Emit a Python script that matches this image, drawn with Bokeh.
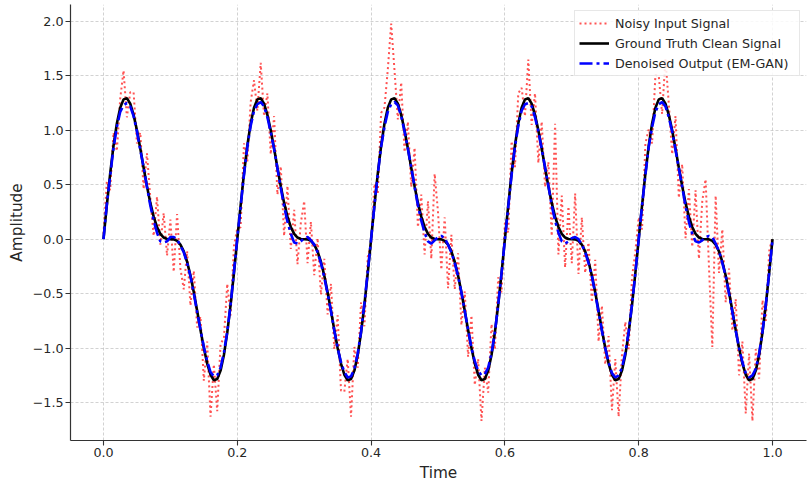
import numpy as np
from bokeh.plotting import figure
from bokeh.models import Range1d, Legend, LegendItem, CustomJSTickFormatter, FixedTicker
from bokeh.embed import file_html
from bokeh.resources import INLINE

time = np.linspace(0.0, 1.0, 201)

clean_signal = [
    0.0000, 0.3109, 0.6029, 0.8585, 1.0633, 1.2071, 1.2845, 1.2955, 1.2450, 1.1422,
    1.0000, 0.8332, 0.6572, 0.4865, 0.3335, 0.2071, 0.1123, 0.0495, 0.0151, 0.0019,
    0.0000, -0.0019, -0.0151, -0.0495, -0.1123, -0.2071, -0.3335, -0.4865, -0.6572, -0.8332,
    -1.0000, -1.1422, -1.2450, -1.2955, -1.2845, -1.2071, -1.0633, -0.8585, -0.6029, -0.3109,
    0.0000, 0.3109, 0.6029, 0.8585, 1.0633, 1.2071, 1.2845, 1.2955, 1.2450, 1.1422,
    1.0000, 0.8332, 0.6572, 0.4865, 0.3335, 0.2071, 0.1123, 0.0495, 0.0151, 0.0019,
    0.0000, -0.0019, -0.0151, -0.0495, -0.1123, -0.2071, -0.3335, -0.4865, -0.6572, -0.8332,
    -1.0000, -1.1422, -1.2450, -1.2955, -1.2845, -1.2071, -1.0633, -0.8585, -0.6029, -0.3109,
    0.0000, 0.3109, 0.6029, 0.8585, 1.0633, 1.2071, 1.2845, 1.2955, 1.2450, 1.1422,
    1.0000, 0.8332, 0.6572, 0.4865, 0.3335, 0.2071, 0.1123, 0.0495, 0.0151, 0.0019,
    0.0000, -0.0019, -0.0151, -0.0495, -0.1123, -0.2071, -0.3335, -0.4865, -0.6572, -0.8332,
    -1.0000, -1.1422, -1.2450, -1.2955, -1.2845, -1.2071, -1.0633, -0.8585, -0.6029, -0.3109,
    0.0000, 0.3109, 0.6029, 0.8585, 1.0633, 1.2071, 1.2845, 1.2955, 1.2450, 1.1422,
    1.0000, 0.8332, 0.6572, 0.4865, 0.3335, 0.2071, 0.1123, 0.0495, 0.0151, 0.0019,
    0.0000, -0.0019, -0.0151, -0.0495, -0.1123, -0.2071, -0.3335, -0.4865, -0.6572, -0.8332,
    -1.0000, -1.1422, -1.2450, -1.2955, -1.2845, -1.2071, -1.0633, -0.8585, -0.6029, -0.3109,
    0.0000, 0.3109, 0.6029, 0.8585, 1.0633, 1.2071, 1.2845, 1.2955, 1.2450, 1.1422,
    1.0000, 0.8332, 0.6572, 0.4865, 0.3335, 0.2071, 0.1123, 0.0495, 0.0151, 0.0019,
    0.0000, -0.0019, -0.0151, -0.0495, -0.1123, -0.2071, -0.3335, -0.4865, -0.6572, -0.8332,
    -1.0000, -1.1422, -1.2450, -1.2955, -1.2845, -1.2071, -1.0633, -0.8585, -0.6029, -0.3109,
    0.0000,
]

noisy_signal = [
    0.05, 0.53, 0.45, 0.98, 0.81, 1.29, 1.55, 1.12, 1.35, 1.35,
    0.88, 0.98, 0.46, 0.79, 0.38, 0.03, 0.39, -0.05, 0.24, -0.15,
    0.18, -0.30, 0.23, -0.27, -0.46, -0.11, -0.61, -0.29, -0.81, -0.71,
    -1.30, -0.94, -1.63, -1.15, -1.58, -0.96, -0.91, -0.41, -0.70, -0.06,
    0.10, 0.11, 0.88, 0.71, 1.26, 1.46, 1.18, 1.62, 1.13, 1.34,
    0.78, 1.13, 0.41, 0.67, 0.03, 0.49, -0.09, 0.27, -0.23, 0.15,
    0.35, -0.22, 0.16, -0.33, 0.01, -0.51, -0.18, -0.69, -0.41, -1.01,
    -0.70, -1.39, -1.40, -1.10, -1.63, -0.99, -1.18, -0.58, -0.80, -0.16,
    -0.05, 0.51, 0.42, 1.16, 1.21, 1.56, 1.98, 1.55, 1.10, 1.44,
    0.80, 1.08, 0.48, 0.84, 0.11, 0.41, -0.14, 0.35, -0.18, 0.60,
    0.25, -0.28, 0.20, -0.45, 0.04, -0.46, -0.13, -0.79, -0.48, -1.08,
    -0.70, -1.34, -1.10, -1.67, -1.18, -1.41, -0.78, -1.01, -0.35, -0.49,
    0.15, 0.06, 0.90, 0.66, 1.34, 1.39, 1.13, 1.65, 1.05, 1.34,
    0.70, 1.08, 0.48, 0.71, 0.03, 1.06, -0.14, 0.40, -0.26, 0.30,
    -0.22, 0.42, -0.32, 0.20, -0.31, -0.03, -0.58, -0.19, -0.94, -0.61,
    -1.15, -0.89, -1.57, -1.10, -1.63, -1.06, -0.76, -1.01, -0.35, -0.11,
    0.20, 0.09, 0.88, 1.01, 0.88, 1.51, 1.50, 1.15, 1.66, 1.24,
    0.78, 1.13, 0.38, 0.69, 0.01, 0.46, -0.07, 0.45, -0.18, 0.35,
    0.55, -0.25, -0.99, 0.40, -0.31, 0.09, -0.58, -0.27, -0.84, -0.55,
    -1.25, -0.94, -1.60, -1.05, -1.67, -1.01, -1.28, -0.56, -0.75, -0.11,
    0.02,
]

denoised_output = [
    0.00, 0.32, 0.58, 0.84, 1.03, 1.17, 1.23, 1.25, 1.22, 1.13,
    0.99, 0.82, 0.66, 0.48, 0.31, 0.17, 0.06, -0.02, -0.03, -0.02,
    0.02, 0.02, 0.00, -0.06, -0.12, -0.22, -0.34, -0.50, -0.67, -0.83,
    -0.99, -1.12, -1.22, -1.26, -1.25, -1.18, -1.04, -0.85, -0.60, -0.30,
    0.01, 0.30, 0.59, 0.85, 1.04, 1.18, 1.24, 1.26, 1.22, 1.12,
    0.98, 0.83, 0.65, 0.47, 0.30, 0.16, 0.05, -0.03, -0.04, -0.02,
    0.01, 0.02, -0.01, -0.05, -0.12, -0.22, -0.35, -0.50, -0.66, -0.84,
    -1.00, -1.13, -1.22, -1.27, -1.26, -1.19, -1.05, -0.85, -0.59, -0.30,
    0.00, 0.31, 0.60, 0.85, 1.03, 1.17, 1.24, 1.26, 1.23, 1.13,
    0.99, 0.83, 0.66, 0.48, 0.31, 0.17, 0.06, -0.02, -0.04, -0.01,
    0.02, 0.03, 0.01, -0.05, -0.12, -0.22, -0.34, -0.49, -0.66, -0.83,
    -1.00, -1.12, -1.21, -1.25, -1.24, -1.18, -1.05, -0.86, -0.60, -0.31,
    0.00, 0.30, 0.59, 0.85, 1.04, 1.18, 1.24, 1.25, 1.22, 1.12,
    0.99, 0.83, 0.66, 0.49, 0.31, 0.17, 0.06, -0.02, -0.04, -0.02,
    0.01, 0.02, 0.00, -0.05, -0.12, -0.22, -0.34, -0.50, -0.67, -0.84,
    -1.00, -1.13, -1.23, -1.27, -1.25, -1.18, -1.04, -0.85, -0.60, -0.31,
    0.00, 0.31, 0.59, 0.85, 1.03, 1.17, 1.24, 1.26, 1.22, 1.12,
    0.99, 0.82, 0.65, 0.48, 0.30, 0.16, 0.05, -0.02, -0.03, -0.01,
    0.02, 0.03, 0.02, -0.04, -0.11, -0.22, -0.34, -0.50, -0.67, -0.84,
    -1.00, -1.13, -1.23, -1.27, -1.25, -1.19, -1.05, -0.85, -0.60, -0.31,
    0.00,
]

x_ticks = [0.0, 0.2, 0.4, 0.6, 0.8, 1.0]
y_ticks = [-1.5, -1.0, -0.5, 0.0, 0.5, 1.0, 1.5, 2.0]

FONT = "DejaVu Sans"

p = figure(width=811, height=484, output_backend="svg", toolbar_location=None,
           x_range=Range1d(-0.0493, 1.0508), y_range=Range1d(-1.849, 2.156),
           min_border_left=70, min_border_right=5, min_border_top=4, min_border_bottom=30)
p.outline_line_color = None
p.background_fill_color = "white"

r_noisy = p.line(time, noisy_signal, line_color="red", line_alpha=0.68, line_width=2.0,
                 line_dash="2 3")
r_clean = p.line(time, clean_signal, line_color="black", line_width=2.6)
r_den = p.line(time, denoised_output, line_color="blue", line_width=2.6,
               line_dash="13 4 3 4")

fmt = CustomJSTickFormatter(code="return tick.toFixed(1).replace('-', '\u2212');")
for ax, ticks in ((p.xaxis[0], x_ticks), (p.yaxis[0], y_ticks)):
    ax.ticker = FixedTicker(ticks=ticks)
    ax.formatter = fmt
    ax.major_label_text_font = FONT
    ax.major_label_text_font_size = "12.7px"
    ax.major_label_text_color = "#262626"
    ax.axis_label_text_font = FONT
    ax.axis_label_text_font_size = "15.3px"
    ax.axis_label_text_font_style = "normal"
    ax.axis_label_text_color = "#262626"
    ax.axis_line_color = "#333333"
    ax.axis_line_width = 1.2
    ax.major_tick_line_color = "#333333"
    ax.major_tick_line_width = 1.1
    ax.major_tick_out = 5
    ax.major_tick_in = 0
    ax.minor_tick_line_color = None
    ax.major_label_standoff = 2
    ax.axis_label_standoff = 4

p.xaxis[0].axis_label = "Time"
p.yaxis[0].axis_label = "Amplitude"

p.xgrid[0].ticker = FixedTicker(ticks=x_ticks)
p.ygrid[0].ticker = FixedTicker(ticks=y_ticks)
for g in (p.xgrid[0], p.ygrid[0]):
    g.grid_line_color = "#b8b8b8"
    g.grid_line_alpha = 0.7
    g.grid_line_dash = "3 2"
    g.grid_line_width = 0.9

legend = Legend(items=[
    LegendItem(label="Noisy Input Signal", renderers=[r_noisy]),
    LegendItem(label="Ground Truth Clean Signal", renderers=[r_clean]),
    LegendItem(label="Denoised Output (EM-GAN)", renderers=[r_den]),
], location="top_right")
legend.margin = 6
legend.padding = 4
legend.spacing = 4
legend.glyph_width = 30
legend.glyph_height = 16
legend.label_height = 16
legend.label_width = 180
legend.label_standoff = 6
legend.label_text_font = FONT
legend.label_text_font_size = "12.7px"
legend.label_text_color = "#262626"
legend.border_line_color = "#d0d0d0"
legend.border_line_width = 1
legend.background_fill_alpha = 0.85
p.add_layout(legend)

open("out.html", "w").write(file_html(p, INLINE))
